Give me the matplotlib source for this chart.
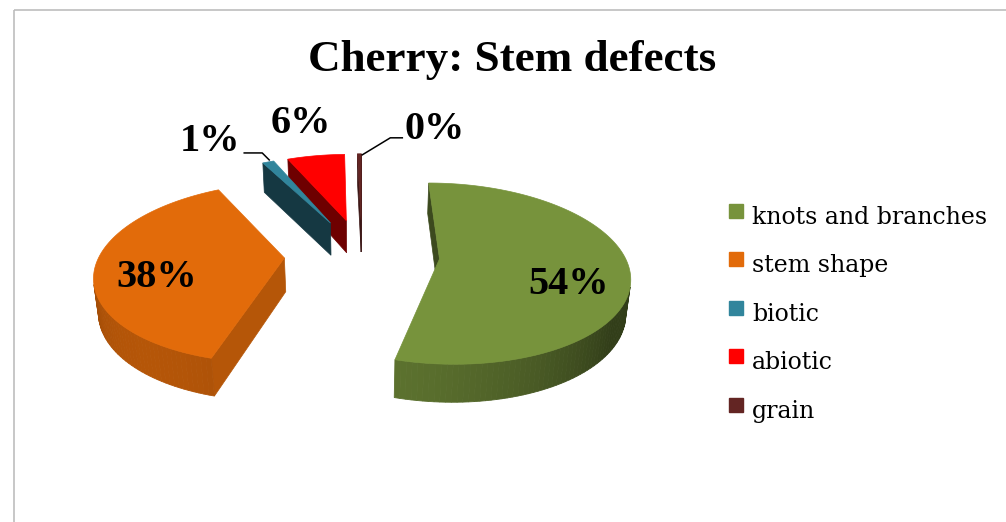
import numpy as np
import matplotlib
matplotlib.use("Agg")
import matplotlib.pyplot as plt
from matplotlib.patches import Polygon, Rectangle
from matplotlib.colors import to_rgb

# ---- data ----
title = "Cherry: Stem defects"
categories = ["knots and branches", "stem shape", "biotic", "abiotic", "grain"]
values = [54.3, 38.0, 1.2, 6.1, 0.4]
colors = ["#77933C", "#E26B0A", "#31859C", "#FF0000", "#632523"]

# ---- canvas in pixel units ----
W, H = 1006, 522
fig = plt.figure(figsize=(W / 100, H / 100), dpi=100)
ax = fig.add_axes([0, 0, 1, 1])
ax.set_xlim(0, W)
ax.set_ylim(H, 0)
ax.axis("off")

BOLD_SERIF = ["Liberation Serif", "DejaVu Serif"]
TEXT_SERIF = ["DejaVu Serif"]

# chart frame
ax.add_patch(Rectangle((14, 10), 1010, 530, fill=False, ec="#bdbdbd", lw=1.2))

# ---- perspective camera for the 3-D pie ----
elev = np.deg2rad(28)
dist = 5.5
focal = 1015.0
cx, cy = 362.0, 254.0
thick = 0.21
explode = 0.42
cam = np.array([0.0, -dist * np.cos(elev), dist * np.sin(elev)])


def project(p):
    x, y, z = p
    depth = dist + y * np.cos(elev) - z * np.sin(elev)
    up = y * np.sin(elev) + z * np.cos(elev)
    return cx + focal * x / depth, cy - focal * up / depth


def shade(c, f):
    r, g, b = to_rgb(c)
    return (r * f, g * f, b * f)


total = sum(values)
fractions = np.array(values) / total
starts = 90 - 360 * np.concatenate([[0], np.cumsum(fractions)[:-1]])
ends = starts - 360 * fractions

slices = []
for i, (a1, a2) in enumerate(zip(starts, ends)):
    t1, t2 = np.deg2rad(a1), np.deg2rad(a2)
    tm = 0.5 * (t1 + t2)
    v = np.array([explode * np.cos(tm), explode * np.sin(tm), 0.0])
    slices.append((i, t1, t2, tm, v))

# far slices first
order = sorted(slices, key=lambda s: -s[4][1])

cut_factor = {0: 0.50, 1: 0.80, 2: 0.42, 3: 0.43, 4: 0.6}
light = np.array([-0.6, -0.8, 0.0])

for i, t1, t2, tm, v in order:
    col = colors[i]
    n = max(4, int(abs(np.rad2deg(t1 - t2)) / 1.5))
    ts = np.linspace(t1, t2, n)
    rim = [v + np.array([np.cos(t), np.sin(t), 0.0]) for t in ts]
    down = np.array([0, 0, -thick])

    # radial cut faces
    for t, sign in ((t1, 1), (t2, -1)):
        nrm = sign * np.array([-np.sin(t), np.cos(t), 0.0])
        if np.dot(nrm, cam - v) > 0:
            o = v + np.array([np.cos(t), np.sin(t), 0.0])
            quad = [project(p) for p in (v, o, o + down, v + down)]
            ax.add_patch(Polygon(quad, closed=True, fc=shade(col, cut_factor[i]),
                                 ec=shade(col, cut_factor[i]), lw=0.5))

    # outer curved wall
    for k in range(n - 1):
        tmid = 0.5 * (ts[k] + ts[k + 1])
        nrm = np.array([np.cos(tmid), np.sin(tmid), 0.0])
        if np.dot(nrm, cam - rim[k]) > 0:
            f = 0.42 + 0.38 * max(np.dot(nrm, light), 0)
            quad = [project(p) for p in (rim[k], rim[k + 1], rim[k + 1] + down, rim[k] + down)]
            ax.add_patch(Polygon(quad, closed=True, fc=shade(col, f), ec=shade(col, f), lw=0.6))

    # top face
    top = [project(v)] + [project(p) for p in rim]
    ax.add_patch(Polygon(top, closed=True, fc=col, ec=col, lw=0.5))

# ---- data labels ----
pct = [f"{round(100 * f):.0f}%" for f in fractions]
label_kw = dict(fontsize=29, fontweight="bold", family=BOLD_SERIF, color="black",
                ha="center", va="center")
for i, nudge in ((0, 0.0), (1, -0.06)):
    _, t1, t2, tm, v = slices[i]
    a = tm + nudge
    p = v + np.array([0.69 * np.cos(a), 0.69 * np.sin(a), -thick / 2])
    x, y = project(p)
    ax.text(x, y, pct[i], **label_kw)

# small outside labels with leader lines
outer = {}
for i in (2, 3, 4):
    _, t1, t2, tm, v = slices[i]
    outer[i] = project(v + np.array([np.cos(tm), np.sin(tm), 0.0]))

bx, by = outer[2]
ax.text(bx - 58, by - 20, pct[2], **label_kw)
ax.plot([bx - 24, bx - 6, bx + 1], [by - 9, by - 9, by - 2], color="black", lw=1.1)

ax_, ay_ = outer[3]
ax.text(ax_ - 15, ay_ - 32, pct[3], **label_kw)

gx, gy = outer[4]
ax.text(gx + 75, gy - 24, pct[4], **label_kw)
ax.plot([gx + 43, gx + 31, gx + 3], [gy - 16, gy - 16, gy + 1], color="black", lw=1.1)

# ---- title ----
ax.text(512, 60, title, fontsize=32.5, fontweight="bold", family=BOLD_SERIF,
        ha="center", va="center")

# ---- legend ----
leg_y0, leg_dy = 211, 48.4
for i, (name, col) in enumerate(zip(categories, colors)):
    y = leg_y0 + i * leg_dy
    ax.add_patch(Rectangle((729, y - 7), 14, 14, fc=col, ec=col))
    ax.text(752, y + 13, name, fontsize=17, family=TEXT_SERIF, ha="left", va="baseline")

fig.savefig("out.png", dpi=100)
